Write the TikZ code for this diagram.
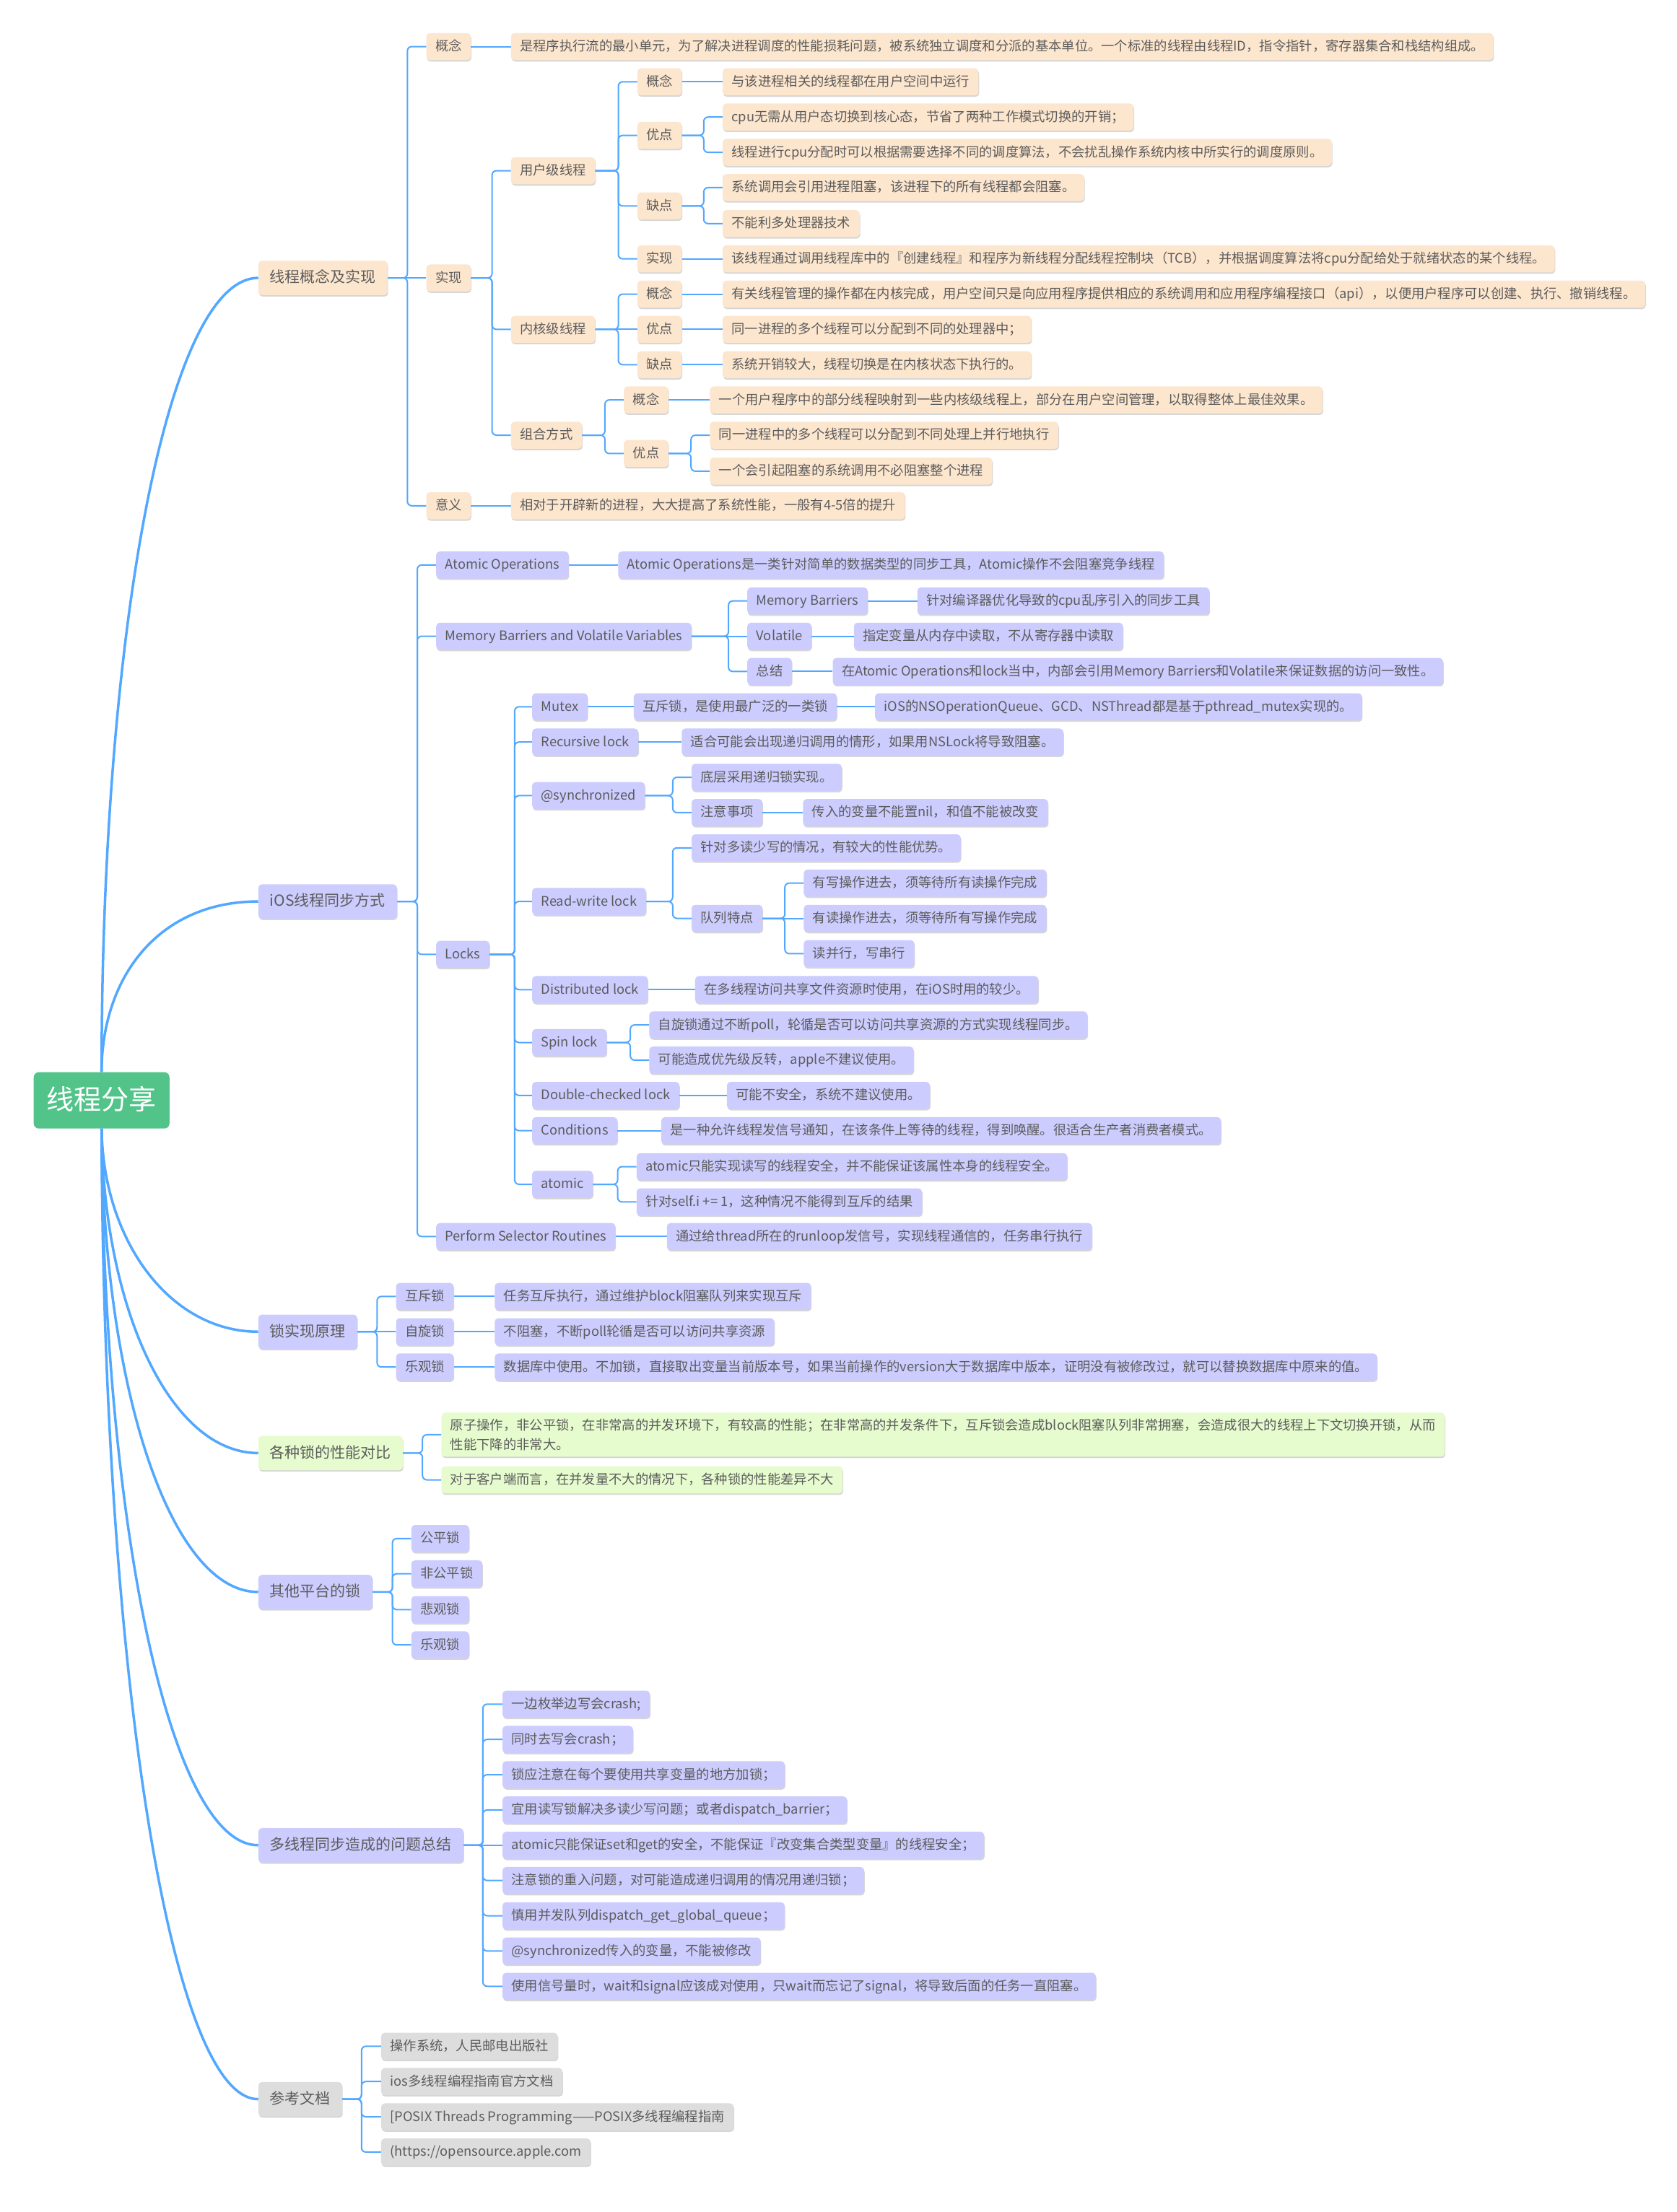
\documentclass[tikz,border=0pt]{standalone}
\usepackage{fontspec}
\setmainfont{Noto Sans CJK SC}
\usetikzlibrary{shadows}
\definecolor{txt}{HTML}{5C5C5C}
\definecolor{orafill}{HTML}{FDE6CE}
\definecolor{purfill}{HTML}{CCCCFF}
\definecolor{grnfill}{HTML}{E6FCCE}
\definecolor{gryfill}{HTML}{DDDDDD}
\definecolor{rootfill}{HTML}{52C48A}
\definecolor{linec}{HTML}{52A8FF}
\tikzset{
    box/.style={anchor=west, rounded corners=5pt, text=txt, inner xsep=12.5pt,
        font=\fontsize{18.3}{27}\selectfont,
        drop shadow={shadow xshift=0.8pt, shadow yshift=-2pt, opacity=0.16, fill=black}},
    leaf/.style={box, text height=15.2pt, text depth=3.3pt, inner ysep=9.5pt},
    ora/.style={leaf, fill=orafill},
    pur/.style={leaf, fill=purfill},
    grn/.style={leaf, fill=grnfill},
    gry/.style={leaf, fill=gryfill},
    topic/.style={box, font=\fontsize{21}{25}\selectfont, inner xsep=16pt,
        text height=17.5pt, text depth=4pt, inner ysep=13pt},
    rootbox/.style={rounded corners=7pt, fill=rootfill, text=white,
        font=\fontsize{38}{44}\selectfont, inner xsep=18pt,
        text height=32pt, text depth=6pt, inner ysep=20pt},
    link/.style={draw=linec, line width=2pt, rounded corners=6pt},
    limb/.style={draw=linec, line width=3.5pt},
}
\begin{document}
\begin{tikzpicture}[x=1.9545pt, y=-1.9545pt]
    \useasboundingbox (0,0) rectangle (1188,1568);
    \fill[white] (0,0) rectangle (1188,1568);

    \node[rootbox] (root) at (72,780) {线程分享};

    % 线程概念及实现
    \node[topic, fill=orafill] (gn) at (183,197) {线程概念及实现};
    \node[ora] (gn1) at (302,33) {概念};
    \node[ora] (gn1a) at (362,33) {是程序执行流的最小单元，为了解决进程调度的性能损耗问题，被系统独立调度和分派的基本单位。一个标准的线程由线程ID，指令指针，寄存器集合和栈结构组成。};
    \node[ora] (gn2) at (302,197) {实现};
    \node[ora] (gn3) at (302,358.5) {意义};
    \node[ora] (gn3a) at (362,358.5) {相对于开辟新的进程，大大提高了系统性能，一般有4-5倍的提升};
    \node[ora] (ut) at (362,121) {用户级线程};
    \node[ora] (kt) at (362,233.5) {内核级线程};
    \node[ora] (mt) at (362,308.5) {组合方式};
    \node[ora] (ut1) at (451.5,58) {概念};
    \node[ora] (ut1a) at (512,58) {与该进程相关的线程都在用户空间中运行};
    \node[ora] (ut2) at (451.5,96) {优点};
    \node[ora] (ut2a) at (512,83) {cpu无需从用户态切换到核心态，节省了两种工作模式切换的开销；};
    \node[ora] (ut2b) at (512,108) {线程进行cpu分配时可以根据需要选择不同的调度算法，不会扰乱操作系统内核中所实行的调度原则。};
    \node[ora] (ut3) at (451.5,146) {缺点};
    \node[ora] (ut3a) at (512,133) {系统调用会引用进程阻塞，该进程下的所有线程都会阻塞。};
    \node[ora] (ut3b) at (512,158.5) {不能利多处理器技术};
    \node[ora] (ut4) at (451.5,183.5) {实现};
    \node[ora] (ut4a) at (512,183.5) {该线程通过调用线程库中的『创建线程』和程序为新线程分配线程控制块（TCB），并根据调度算法将cpu分配给处于就绪状态的某个线程。};
    \node[ora] (kt1) at (451.5,208.5) {概念};
    \node[ora] (kt1a) at (512,208.5) {有关线程管理的操作都在内核完成，用户空间只是向应用程序提供相应的系统调用和应用程序编程接口（api），以便用户程序可以创建、执行、撤销线程。};
    \node[ora] (kt2) at (451.5,233.5) {优点};
    \node[ora] (kt2a) at (512,233.5) {同一进程的多个线程可以分配到不同的处理器中；};
    \node[ora] (kt3) at (451.5,258.5) {缺点};
    \node[ora] (kt3a) at (512,258.5) {系统开销较大，线程切换是在内核状态下执行的。};
    \node[ora] (mt1) at (442,283.5) {概念};
    \node[ora] (mt1a) at (503,283.5) {一个用户程序中的部分线程映射到一些内核级线程上，部分在用户空间管理，以取得整体上最佳效果。};
    \node[ora] (mt2) at (442,321.5) {优点};
    \node[ora] (mt2a) at (503,308.5) {同一进程中的多个线程可以分配到不同处理上并行地执行};
    \node[ora] (mt2b) at (503,334) {一个会引起阻塞的系统调用不必阻塞整个进程};

    % iOS线程同步方式
    \node[topic, fill=purfill] (ios) at (183,639) {iOS线程同步方式};
    \node[pur] (ao) at (309,400.5) {Atomic Operations};
    \node[pur] (aoa) at (438,400.5) {Atomic Operations是一类针对简单的数据类型的同步工具，Atomic操作不会阻塞竞争线程};
    \node[pur] (mb) at (309,451) {Memory Barriers and Volatile Variables};
    \node[pur] (mb1) at (529.5,426) {Memory Barriers};
    \node[pur] (mb1a) at (650,426) {针对编译器优化导致的cpu乱序引入的同步工具};
    \node[pur] (mb2) at (529.5,451) {Volatile};
    \node[pur] (mb2a) at (605,451) {指定变量从内存中读取，不从寄存器中读取};
    \node[pur] (mb3) at (529.5,476) {总结};
    \node[pur] (mb3a) at (590,476) {在Atomic Operations和lock当中，内部会引用Memory Barriers和Volatile来保证数据的访问一致性。};
    \node[pur] (lk) at (309,676.5) {Locks};
    \node[pur] (mx) at (377,501) {Mutex};
    \node[pur] (mxa) at (449,501) {互斥锁，是使用最广泛的一类锁};
    \node[pur] (mxb) at (620,501) {iOS的NSOperationQueue、GCD、NSThread都是基于pthread\_mutex实现的。};
    \node[pur] (rc) at (377,526) {Recursive lock};
    \node[pur] (rca) at (483,526) {适合可能会出现递归调用的情形，如果用NSLock将导致阻塞。};
    \node[pur] (sy) at (377,564) {@synchronized};
    \node[pur] (sya) at (490,551) {底层采用递归锁实现。};
    \node[pur] (syb) at (490,576) {注意事项};
    \node[pur] (syb1) at (569,576) {传入的变量不能置nil，和值不能被改变};
    \node[pur] (rw) at (377,639) {Read-write lock};
    \node[pur] (rwa) at (490,601) {针对多读少写的情况，有较大的性能优势。};
    \node[pur] (rwb) at (490,651) {队列特点};
    \node[pur] (rwb1) at (569.5,626) {有写操作进去，须等待所有读操作完成};
    \node[pur] (rwb2) at (569.5,651) {有读操作进去，须等待所有写操作完成};
    \node[pur] (rwb3) at (569.5,676) {读并行，写串行};
    \node[pur] (dl) at (377,701.5) {Distributed lock};
    \node[pur] (dla) at (492.5,701.5) {在多线程访问共享文件资源时使用，在iOS时用的较少。};
    \node[pur] (sp) at (377,739) {Spin lock};
    \node[pur] (spa) at (460,726.5) {自旋锁通过不断poll，轮循是否可以访问共享资源的方式实现线程同步。};
    \node[pur] (spb) at (460,751.5) {可能造成优先级反转，apple不建议使用。};
    \node[pur] (dc) at (377,776.5) {Double-checked lock};
    \node[pur] (dca) at (515,776.5) {可能不安全，系统不建议使用。};
    \node[pur] (cd) at (377,801.5) {Conditions};
    \node[pur] (cda) at (468.5,801.5) {是一种允许线程发信号通知，在该条件上等待的线程，得到唤醒。很适合生产者消费者模式。};
    \node[pur] (at) at (377,839.5) {atomic};
    \node[pur] (ata) at (451,827) {atomic只能实现读写的线程安全，并不能保证该属性本身的线程安全。};
    \node[pur] (atb) at (451,852) {针对self.i += 1，这种情况不能得到互斥的结果};
    \node[pur] (ps) at (309,876.5) {Perform Selector Routines};
    \node[pur] (psa) at (472.5,876.5) {通过给thread所在的runloop发信号，实现线程通信的，任务串行执行};

    % 锁实现原理
    \node[topic, fill=purfill] (lp) at (183,944) {锁实现原理};
    \node[pur] (lp1) at (280.5,919) {互斥锁};
    \node[pur] (lp1a) at (350.5,919) {任务互斥执行，通过维护block阻塞队列来实现互斥};
    \node[pur] (lp2) at (280.5,944) {自旋锁};
    \node[pur] (lp2a) at (350.5,944) {不阻塞，不断poll轮循是否可以访问共享资源};
    \node[pur] (lp3) at (280.5,969) {乐观锁};
    \node[pur] (lp3a) at (350.5,969) {数据库中使用。不加锁，直接取出变量当前版本号，如果当前操作的version大于数据库中版本，证明没有被修改过，就可以替换数据库中原来的值。};

    % 各种锁的性能对比
    \node[topic, fill=grnfill] (pc) at (183,1030) {各种锁的性能对比};
    \node[box, fill=grnfill, align=left, inner ysep=8.5pt] (pc1) at (312.7,1017) {原子操作，非公平锁，在非常高的并发环境下，有较高的性能；在非常高的并发条件下，互斥锁会造成block阻塞队列非常拥塞，会造成很大的线程上下文切换开锁，从而\\性能下降的非常大。};
    \node[grn] (pc2) at (312.7,1049) {对于客户端而言，在并发量不大的情况下，各种锁的性能差异不大};

    % 其他平台的锁
    \node[topic, fill=purfill] (op) at (183,1128.5) {其他平台的锁};
    \node[pur] (op1) at (291.4,1090.6) {公平锁};
    \node[pur] (op2) at (291.4,1115.6) {非公平锁};
    \node[pur] (op3) at (291.4,1141) {悲观锁};
    \node[pur] (op4) at (291.4,1166) {乐观锁};

    % 多线程同步造成的问题总结
    \node[topic, fill=purfill] (ms) at (183,1308) {多线程同步造成的问题总结};
    \node[pur] (ms1) at (356,1208) {一边枚举边写会crash;};
    \node[pur] (ms2) at (356,1233) {同时去写会crash；};
    \node[pur] (ms3) at (356,1258) {锁应注意在每个要使用共享变量的地方加锁；};
    \node[pur] (ms4) at (356,1283) {宜用读写锁解决多读少写问题；或者dispatch\_barrier；};
    \node[pur] (ms5) at (356,1308) {atomic只能保证set和get的安全，不能保证『改变集合类型变量』的线程安全；};
    \node[pur] (ms6) at (356,1333) {注意锁的重入问题，对可能造成递归调用的情况用递归锁；};
    \node[pur] (ms7) at (356,1358) {慎用并发队列dispatch\_get\_global\_queue；};
    \node[pur] (ms8) at (356,1383) {@synchronized传入的变量，不能被修改};
    \node[pur] (ms9) at (356,1408) {使用信号量时，wait和signal应该成对使用，只wait而忘记了signal，将导致后面的任务一直阻塞。};

    % 参考文档
    \node[topic, fill=gryfill] (rf) at (183,1488) {参考文档};
    \node[gry] (rf1) at (270,1450.5) {操作系统，人民邮电出版社};
    \node[gry] (rf2) at (270,1475.5) {ios多线程编程指南官方文档};
    \node[gry] (rf3) at (270,1500.5) {[POSIX Threads Programming——POSIX多线程编程指南};
    \node[gry] (rf4) at (270,1525.5) {(https://opensource.apple.com};

    % root to topics
    \draw[limb] (root.north) .. controls (72,450) and (118,197) .. (gn.west);
    \draw[limb] (root.north) .. controls (72,693) and (112,639) .. (ios.west);
    \draw[limb] (root.south) .. controls (73,879) and (120,944) .. (lp.west);
    \draw[limb] (root.south) .. controls (73,926) and (120,1030) .. (pc.west);
    \draw[limb] (root.south) .. controls (73,981) and (120,1128.5) .. (op.west);
    \draw[limb] (root.south) .. controls (73,1079) and (120,1308) .. (ms.west);
    \draw[limb] (root.south) .. controls (73,1178) and (120,1488) .. (rf.west);

    % branches
    \draw[link] (gn) -- (gn2);
    \foreach \c in {gn1,gn3} \draw[link] (gn.east) -| ([xshift=-26pt]\c.west) -- (\c.west);
    \draw[link] (gn1) -- (gn1a);
    \draw[link] (gn3) -- (gn3a);
    \foreach \c in {ut,kt,mt} \draw[link] (gn2.east) -| ([xshift=-26pt]\c.west) -- (\c.west);
    \foreach \c in {ut1,ut2,ut3,ut4} \draw[link] (ut.east) -| ([xshift=-26pt]\c.west) -- (\c.west);
    \draw[link] (ut1) -- (ut1a);
    \foreach \c in {ut2a,ut2b} \draw[link] (ut2.east) -| ([xshift=-26pt]\c.west) -- (\c.west);
    \foreach \c in {ut3a,ut3b} \draw[link] (ut3.east) -| ([xshift=-26pt]\c.west) -- (\c.west);
    \draw[link] (ut4) -- (ut4a);
    \draw[link] (kt) -- (kt2);
    \foreach \c in {kt1,kt3} \draw[link] (kt.east) -| ([xshift=-26pt]\c.west) -- (\c.west);
    \draw[link] (kt1) -- (kt1a);
    \draw[link] (kt2) -- (kt2a);
    \draw[link] (kt3) -- (kt3a);
    \foreach \c in {mt1,mt2} \draw[link] (mt.east) -| ([xshift=-26pt]\c.west) -- (\c.west);
    \draw[link] (mt1) -- (mt1a);
    \foreach \c in {mt2a,mt2b} \draw[link] (mt2.east) -| ([xshift=-26pt]\c.west) -- (\c.west);

    \foreach \c in {ao,mb,lk,ps} \draw[link] (ios.east) -| ([xshift=-26pt]\c.west) -- (\c.west);
    \draw[link] (ao) -- (aoa);
    \draw[link] (mb) -- (mb2);
    \foreach \c in {mb1,mb3} \draw[link] (mb.east) -| ([xshift=-26pt]\c.west) -- (\c.west);
    \draw[link] (mb1) -- (mb1a);
    \draw[link] (mb2) -- (mb2a);
    \draw[link] (mb3) -- (mb3a);
    \foreach \c in {mx,rc,sy,rw,dl,sp,dc,cd,at} \draw[link] (lk.east) -| ([xshift=-24pt]\c.west) -- (\c.west);
    \draw[link] (mx) -- (mxa);
    \draw[link] (mxa) -- (mxb);
    \draw[link] (rc) -- (rca);
    \foreach \c in {sya,syb} \draw[link] (sy.east) -| ([xshift=-26pt]\c.west) -- (\c.west);
    \draw[link] (syb) -- (syb1);
    \foreach \c in {rwa,rwb} \draw[link] (rw.east) -| ([xshift=-26pt]\c.west) -- (\c.west);
    \draw[link] (rwb) -- (rwb2);
    \foreach \c in {rwb1,rwb3} \draw[link] (rwb.east) -| ([xshift=-26pt]\c.west) -- (\c.west);
    \draw[link] (dl) -- (dla);
    \foreach \c in {spa,spb} \draw[link] (sp.east) -| ([xshift=-26pt]\c.west) -- (\c.west);
    \draw[link] (dc) -- (dca);
    \draw[link] (cd) -- (cda);
    \foreach \c in {ata,atb} \draw[link] (at.east) -| ([xshift=-26pt]\c.west) -- (\c.west);
    \draw[link] (ps) -- (psa);

    \draw[link] (lp) -- (lp2);
    \foreach \c in {lp1,lp3} \draw[link] (lp.east) -| ([xshift=-26pt]\c.west) -- (\c.west);
    \draw[link] (lp1) -- (lp1a);
    \draw[link] (lp2) -- (lp2a);
    \draw[link] (lp3) -- (lp3a);

    \foreach \c in {pc1,pc2} \draw[link] (pc.east) -| ([xshift=-26pt]\c.west) -- (\c.west);

    \foreach \c in {op1,op2,op3,op4} \draw[link] (op.east) -| ([xshift=-26pt]\c.west) -- (\c.west);

    \draw[link] (ms) -- (ms5);
    \foreach \c in {ms1,ms2,ms3,ms4,ms6,ms7,ms8,ms9} \draw[link] (ms.east) -| ([xshift=-27pt]\c.west) -- (\c.west);

    \foreach \c in {rf1,rf2,rf3,rf4} \draw[link] (rf.east) -| ([xshift=-27pt]\c.west) -- (\c.west);
\end{tikzpicture}
\end{document}
